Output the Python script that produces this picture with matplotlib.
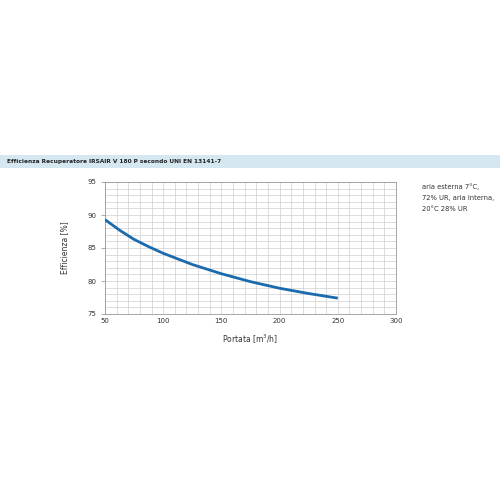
import matplotlib.pyplot as plt
from matplotlib.patches import Rectangle
from matplotlib.ticker import MultipleLocator

# data
portata = [50, 62.5, 75, 87.5, 100, 125, 150, 175, 200, 225, 250]
efficienza = [89.3, 87.7, 86.3, 85.2, 84.2, 82.5, 81.1, 79.9, 78.9, 78.1, 77.4]

title = "Efficienza Recuperatore IRSAIR V 180 P secondo UNI EN 13141-7"
note = "aria esterna 7°C,\n72% UR, aria interna,\n20°C 28% UR"

fig = plt.figure(figsize=(5, 5), dpi=100)
fig.patches.append(Rectangle((0, 0.665), 1, 0.026, transform=fig.transFigure,
                             facecolor='#d5e8f2', edgecolor='none', zorder=0))
fig.text(0.014, 0.678, title, fontsize=4.2, fontweight='bold', va='center',
         color='#222222', family=['DejaVu Sans Condensed', 'DejaVu Sans'])

ax = fig.add_axes([0.21, 0.372, 0.582, 0.264])
ax.plot(portata, efficienza, color='#1b6aad', linewidth=2.0, solid_capstyle='butt', zorder=3)

ax.set_xlim(50, 300)
ax.set_ylim(75, 95)
ax.xaxis.set_major_locator(MultipleLocator(50))
ax.xaxis.set_minor_locator(MultipleLocator(10))
ax.yaxis.set_major_locator(MultipleLocator(5))
ax.yaxis.set_minor_locator(MultipleLocator(1))
ax.grid(which='both', color='#cfcfcf', linewidth=0.5)
ax.set_axisbelow(True)
for s in ax.spines.values():
    s.set_color('#9a9a9a')
    s.set_linewidth(0.6)
ax.tick_params(which='both', length=0, labelsize=5, colors='#333333', pad=3)
ax.tick_params(which='major', axis='y', length=3, color='#9a9a9a', width=0.6)
ax.set_xlabel("Portata [m$^3$/h]", fontsize=5.5, color='#333333', labelpad=6)
ax.set_ylabel("Efficienza [%]", fontsize=5.5, color='#333333', labelpad=13)

fig.text(0.843, 0.634, note, fontsize=4.9, va='top', linespacing=2.0, color='#333333')

fig.savefig('out.png', dpi=100)
